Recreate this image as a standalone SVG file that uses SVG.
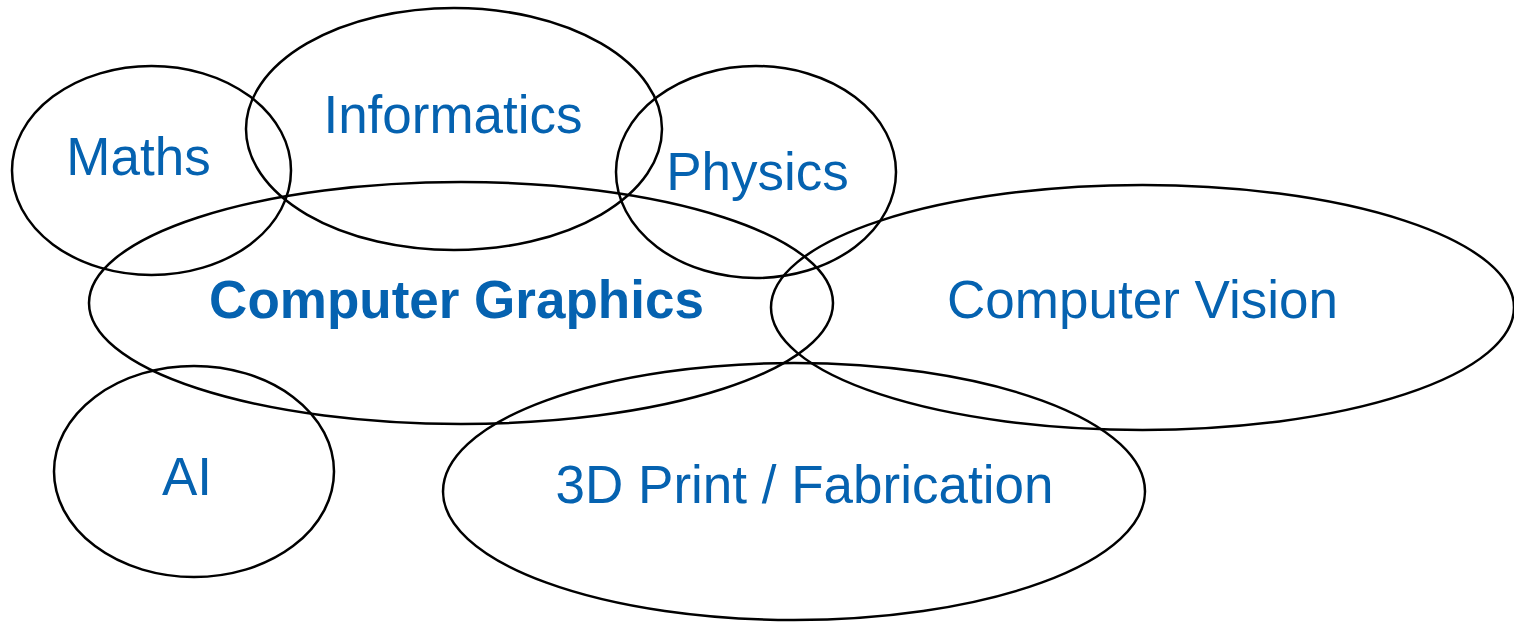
<svg xmlns="http://www.w3.org/2000/svg" width="1514" height="623" viewBox="0 0 1514 623">
<style>
.e{fill:none;stroke:#000;stroke-width:2.5}
.t{font-family:"Liberation Sans",Arial,sans-serif;font-size:53px;fill:#0562B0;text-anchor:middle}
.b{font-weight:bold}
</style>
<rect width="1514" height="623" fill="#fff"/>
<g id="maths"><ellipse class="e" cx="151.5" cy="170.5" rx="139.5" ry="104.5"/><text class="t" x="138.5" y="175">Maths</text></g>
<g id="informatics"><ellipse class="e" cx="454" cy="129" rx="208" ry="121"/><text class="t" x="453" y="133">Informatics</text></g>
<g id="physics"><ellipse class="e" cx="756" cy="172" rx="140" ry="106"/><text class="t" x="757.5" y="190">Physics</text></g>
<g id="graphics"><ellipse class="e" cx="461" cy="303" rx="372" ry="121"/><text class="t b" x="456.5" y="318">Computer Graphics</text></g>
<g id="vision"><ellipse class="e" cx="1142.5" cy="307.5" rx="371.5" ry="122.5"/><text class="t" x="1142.5" y="318">Computer Vision</text></g>
<g id="ai"><ellipse class="e" cx="194" cy="471.5" rx="140" ry="105.5"/><text class="t" x="187" y="495">AI</text></g>
<g id="fabrication"><ellipse class="e" cx="794" cy="491.5" rx="351" ry="128.5"/><text class="t" x="804.5" y="503">3D Print / Fabrication</text></g>
<g id="connectors"/>
</svg>
